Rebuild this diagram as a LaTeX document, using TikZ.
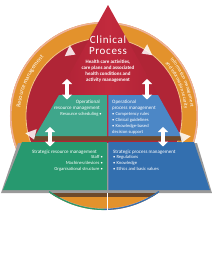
\documentclass[tikz,border=0pt]{standalone}
\usepackage{fontspec}
\setmainfont{Carlito}
\usepackage{tikz}
\usetikzlibrary{arrows.meta,decorations.text}
\definecolor{ringorange}{HTML}{E3922C}
\definecolor{ringedge}{HTML}{EDB19A}
\definecolor{ringcream}{HTML}{F2C48A}
\definecolor{innerred}{HTML}{B02536}
\definecolor{clinred}{HTML}{C22A3D}
\definecolor{clindark}{HTML}{A51F33}
\definecolor{opteal}{HTML}{3FA68B}
\definecolor{opblue}{HTML}{4C87C6}
\definecolor{stteal}{HTML}{27996F}
\definecolor{stblue}{HTML}{336FAF}
\definecolor{slabbrown}{HTML}{6E4A2C}
\definecolor{slabgray}{HTML}{9A9A9A}

\begin{document}
\begin{tikzpicture}[x=1pt,y=1pt,
  slabtext/.style={text=white,font=\fontsize{4.6}{6}\selectfont,inner sep=0pt},
  slabhead/.style={text=white,font=\fontsize{5}{6}\selectfont,inner sep=0pt},
  dblarrow/.style={white,line width=3.2pt,{Triangle[width=10pt,length=5pt]}-{Triangle[width=10pt,length=5pt]}},
  bandtip/.style={fill=white,opacity=.85}]
\useasboundingbox (0,0) rectangle (220,277);
\coordinate (C) at (104,161);
% ring and inner disk
\fill[ringorange] (C) circle (94);
\draw[ringedge,line width=1.6pt] (C) circle (93.2);
\fill[innerred] (C) circle (78);
\draw[ringcream,line width=.8pt] (C) circle (78);
% band texts
\path[decorate,decoration={text along path,text align=center,
  text={|\fontsize{6}{6}\selectfont\color{white}|Resource management}}]
  (C) ++(192:84) arc[start angle=192,end angle=118,radius=84];
\path[decorate,decoration={text along path,text align=center,
  text={|\fontsize{5}{5}\selectfont\color{white}|Information management}}]
  (C) ++(58:87) arc[start angle=58,end angle=-12,radius=87];
\path[decorate,decoration={text along path,text align=center,
  text={|\fontsize{5}{5}\selectfont\color{white}|and information security}}]
  (C) ++(58:81) arc[start angle=58,end angle=-12,radius=81];
% clinical process triangle
\shade[left color=clindark,right color=clindark,middle color=clinred]
  (108,272) -- (183,137) -- (33,137) -- cycle;
% band arrow heads
\fill[bandtip,shift={(70,225)},rotate=-25] (6,0) -- (-3,6) -- (-3,-6) -- cycle;
\fill[bandtip,shift={(147,226)},rotate=205] (6,0) -- (-3,6) -- (-3,-6) -- cycle;
% operational slab
\fill[slabbrown] (35,141) -- (181,141) -- (183,136.5) -- (33,136.5) -- cycle;
\fill[opteal] (59,182) -- (106.8,182) -- (106.8,141) -- (35,141) -- cycle;
\fill[opblue] (108.3,182) -- (158,182) -- (181,141) -- (108.3,141) -- cycle;
% strategic slab
\fill[slabgray] (18,134) -- (197,134) -- (212,84) -- (1,84) -- cycle;
\fill[stteal] (22,135) -- (106.8,135) -- (106.8,87) -- (3,87) -- cycle;
\fill[stblue] (108.3,135) -- (194,135) -- (210,87) -- (108.3,87) -- cycle;
% ring below the slabs
\begin{scope}
\clip (C) circle (94);
\fill[slabbrown] (40,80.5) rectangle (170,84);
\end{scope}
\draw[stteal,line width=1.3pt] (C) ++(234:93.4) arc[start angle=234,end angle=270,radius=93.4];
\draw[stblue,line width=1.3pt] (C) ++(270:93.4) arc[start angle=270,end angle=306,radius=93.4];
\fill[white] (106.8,60) rectangle (108.3,84);
\fill[bandtip,shift={(32,143)},rotate=-70] (6,0) -- (-3,6) -- (-3,-6) -- cycle;
\fill[bandtip,shift={(184,140)},rotate=250] (6,0) -- (-3,6) -- (-3,-6) -- cycle;
% double arrows between levels
\coordinate (a1t) at (67,198); \coordinate (a1b) at (67,177.5);
\coordinate (a2t) at (147,198); \coordinate (a2b) at (147,177.5);
\coordinate (b1t) at (50,150); \coordinate (b1b) at (50,130.5);
\coordinate (b2t) at (163,150); \coordinate (b2b) at (163,130.5);
\draw[dblarrow] (a1t) -- (a1b);
\draw[dblarrow] (a2t) -- (a2b);
\draw[dblarrow] (b1t) -- (b1b);
\draw[dblarrow] (b2t) -- (b2b);
% texts
\node[text=white,font=\fontsize{11}{12}\selectfont\addfontfeatures{LetterSpace=6}] (clin) at (108,237) {Clinical};
\node[text=white,font=\fontsize{11}{12}\selectfont\addfontfeatures{LetterSpace=6}] (proc) at (108,225.5) {Process};
\node[text=white,font=\bfseries\fontsize{5}{5.9}\selectfont,align=center,inner sep=0pt] (clindesc) at (108,206)
  {Health care activities,\\care plans and associated\\health conditions and\\activity management};
\node[slabhead,align=right,anchor=north east] (oprestitle) at (100,177) {Operational\\resource management};
\node[slabtext,align=right,anchor=north east] (opresitems) at (102,164.5) {Resource scheduling •};
\node[slabhead,align=left,anchor=north west] (opproctitle) at (112,177) {Operational\\process management};
\node[slabtext,align=left,anchor=north west] (opprocitems) at (112,164.5)
  {• Competency rules\\• Clinical guidelines\\• Knowledge-based\\decision support};
\node[slabhead,anchor=west] (strrestitle) at (32,125) {Strategic resource management};
\node[slabtext,align=right,anchor=north east] (strresitems) at (103,121.5)
  {Staff •\\Machines/devices •\\Organisational structure •};
\node[slabhead,anchor=west] (strproctitle) at (113,125) {Strategic process management};
\node[slabtext,align=left,anchor=north west] (strprocitems) at (113,121.5)
  {• Regulations\\• Knowledge\\• Ethics and basic values};
\end{tikzpicture}
\end{document}
